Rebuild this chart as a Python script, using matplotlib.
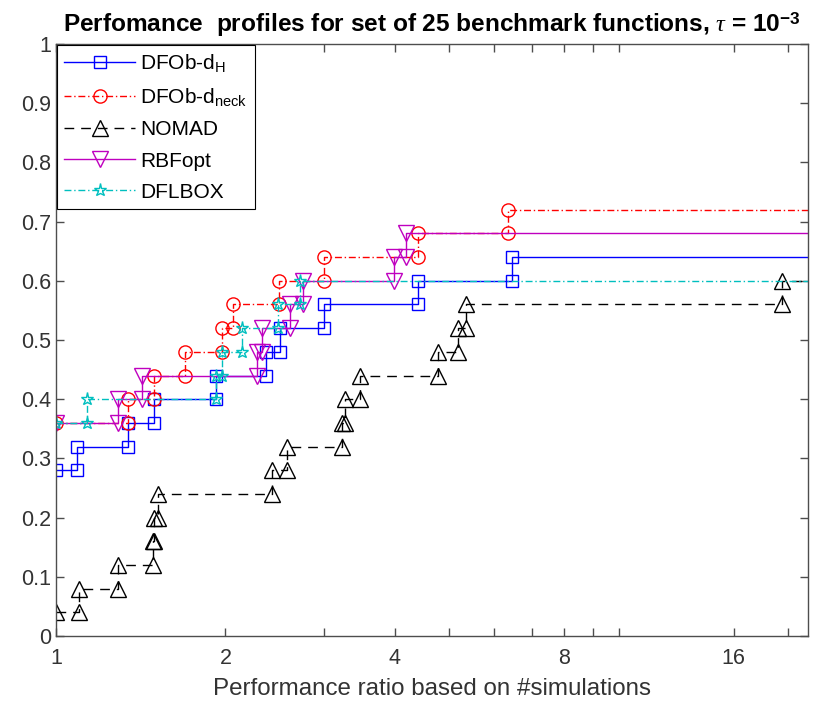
import numpy as np
import matplotlib.pyplot as plt

plt.rcParams['font.family'] = ['Liberation Sans', 'DejaVu Sans']
plt.rcParams['mathtext.fontset'] = 'custom'
plt.rcParams['mathtext.rm'] = 'Liberation Sans'
plt.rcParams['mathtext.bf'] = 'Liberation Sans:bold'
plt.rcParams['mathtext.it'] = 'Liberation Serif:italic'

# performance ratio where each profile steps up, and the fraction of problems reached there
dh_ratio = [1.0, 1.09, 1.344, 1.495, 1.924, 2.357, 2.50, 2.99, 4.40, 6.46]
dh_frac = [0.28, 0.32, 0.36, 0.40, 0.44, 0.48, 0.52, 0.56, 0.60, 0.64]

neck_ratio = [1.0, 1.344, 1.495, 1.695, 1.97, 2.065, 2.49, 2.99, 4.40, 6.35]
neck_frac = [0.36, 0.40, 0.44, 0.48, 0.52, 0.56, 0.60, 0.64, 0.68, 0.72]

nomad_ratio = [1.0, 1.10, 1.29, 1.49, 1.495, 1.52, 2.42, 2.57, 3.22, 3.26, 3.47, 4.78, 5.18, 5.35, 19.5]
nomad_frac = [0.04, 0.08, 0.12, 0.16, 0.20, 0.24, 0.28, 0.32, 0.36, 0.40, 0.44, 0.48, 0.52, 0.56, 0.60]

rbf_ratio = [1.0, 1.287, 1.42, 2.28, 2.32, 2.61, 2.75, 3.98, 4.18]
rbf_frac = [0.36, 0.40, 0.44, 0.48, 0.52, 0.56, 0.60, 0.64, 0.68]

dfl_ratio = [1.0, 1.134, 1.924, 1.97, 2.14, 2.48, 2.71]
dfl_frac = [0.36, 0.40, 0.44, 0.48, 0.52, 0.56, 0.60]

x_max = 21.7
x_ticks = [1, 2, 4, 8, 16]
x_minor = [3, 5, 6, 7, 9, 10, 20]


def stairs(x, y):
    # vertices of a stairs plot: (x0,y0), (x1,y0), (x1,y1), ...
    xs = np.repeat(x, 2)[1:]
    ys = np.repeat(y, 2)[:-1]
    return xs, ys


fig = plt.figure(figsize=(8.15, 7.1), dpi=100)
ax = fig.add_axes([56 / 815, 1 - 636 / 710, 752 / 815, 592 / 710])

series = [
    (dh_ratio, dh_frac, 'b', 's', 8.5, '-', r'DFOb-d$_{\mathrm{H}}$'),
    (neck_ratio, neck_frac, 'r', 'o', 9.5, (0, (5, 2, 1, 2)), r'DFOb-d$_{\mathrm{neck}}$'),
    (nomad_ratio, nomad_frac, 'k', '^', 11, (0, (7, 5)), 'NOMAD'),
    (rbf_ratio, rbf_frac, 'm', 'v', 11, '-', 'RBFopt'),
    (dfl_ratio, dfl_frac, 'c', '*', 9.5, (0, (5, 2, 1, 2)), 'DFLBOX'),
]

for ratio, frac, color, marker, ms, ls, label in series:
    xs, ys = stairs(ratio, frac)
    n = len(xs)
    # extend the last level beyond the right edge
    xs = np.append(xs, 40)
    ys = np.append(ys, frac[-1])
    ax.plot(xs, ys, color=color, linestyle=ls, linewidth=1.0, marker=marker,
            markersize=ms, markerfacecolor='none', markeredgewidth=1.0,
            markevery=list(range(n)), label=label)

ax.set_xscale('log', base=2)
ax.set_xlim(1, x_max)
ax.set_ylim(0, 1)
ax.set_xticks(x_ticks)
ax.set_xticklabels([str(t) for t in x_ticks])
ax.set_xticks(x_minor, minor=True)
ax.set_xticklabels([], minor=True)
ax.set_yticks(np.arange(0, 1.01, 0.1))
ax.set_yticklabels(['0'] + ['%.1f' % v for v in np.arange(0.1, 0.95, 0.1)] + ['1'])
ax.tick_params(which='both', direction='in', top=True, right=True, length=6,
               width=1.0, color='0.3', labelsize=15.5, labelcolor='0.2')
ax.tick_params(axis='x', pad=9)
for s in ax.spines.values():
    s.set_color('0.3')
    s.set_linewidth(1.0)

ax.set_xlabel('Performance ratio based on #simulations', fontsize=17.4, color='0.2', labelpad=6)
ax.set_title(r'Perfomance  profiles for set of 25 benchmark functions, $\tau$ = 10$^{\mathbf{-3}}$',
             fontsize=17.6, fontweight='bold', pad=9)

leg = ax.legend(loc='upper left', fontsize=15, handlelength=3.4, numpoints=1,
                fancybox=False, edgecolor='k', framealpha=1, borderaxespad=0.05,
                labelspacing=0.58, handletextpad=0.25, borderpad=0.35)
leg.get_frame().set_linewidth(0.8)

fig.savefig('out.png', dpi=100)
